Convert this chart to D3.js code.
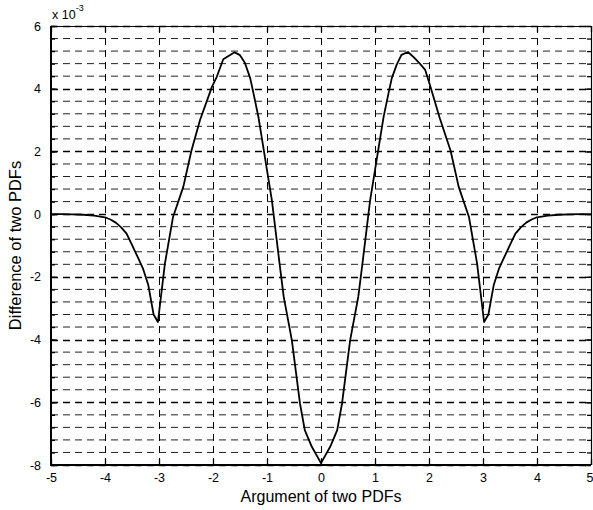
<!DOCTYPE html>
<html>
<head>
<meta charset="utf-8">
<script src="https://cdn.jsdelivr.net/npm/d3@7"></script>
<style>
  html, body { margin: 0; padding: 0; background: #fff; }
  svg { display: block; font-family: Arial, "Liberation Sans", Helvetica, sans-serif; }
</style>
</head>
<body>
<svg id="chart" width="593" height="510"></svg>
<script>
// ---- data (difference values in units of 1e-3) ----
const xValues = [
  -5, -4.8, -4.6, -4.4, -4.2, -4.0, -3.9, -3.8, -3.7, -3.6, -3.5, -3.4, -3.3, -3.2, -3.1, -3.02,
  -2.89, -2.74, -2.55, -2.4, -2.24, -2.02, -1.93, -1.81, -1.6, -1.5, -1.41, -1.31, -1.25, -1.16,
  -1.07, -0.98, -0.91, -0.82, -0.76, -0.69, -0.54, -0.39, -0.3, -0.17, 0,
  0.17, 0.3, 0.39, 0.54, 0.69, 0.76, 0.82, 0.91, 0.98, 1.07, 1.16, 1.25, 1.31, 1.4, 1.49,
  1.61, 1.72, 1.83, 1.93, 2.02, 2.2, 2.4, 2.55, 2.74, 2.89, 3.02, 3.1, 3.2, 3.3, 3.4, 3.5,
  3.6, 3.7, 3.8, 3.9, 4.0, 4.2, 4.4, 4.6, 4.8, 5
];
const diffValues = [
  0, 0, -0.01, -0.02, -0.05, -0.1, -0.17, -0.27, -0.42, -0.62, -0.98, -1.35, -1.72, -2.25, -3.2, -3.44,
  -1.57, -0.09, 0.87, 2.02, 3.0, 4.06, 4.38, 4.94, 5.16, 5.07, 4.83, 4.33, 3.85, 3.11,
  2.15, 1.19, 0.45, -0.83, -1.68, -2.64, -4.02, -6.03, -6.89, -7.42, -7.94,
  -7.42, -6.89, -6.03, -4.02, -2.64, -1.68, -0.83, 0.45, 1.19, 2.15, 3.11, 3.85, 4.33, 4.76, 5.08,
  5.17, 5.0, 4.8, 4.6, 4.1, 3.06, 2.02, 0.87, -0.09, -1.57, -3.44, -3.2, -2.25, -1.72, -1.35, -0.98,
  -0.62, -0.42, -0.27, -0.17, -0.1, -0.05, -0.02, -0.01, 0, 0
];
const xTicks = [-5, -4, -3, -2, -1, 0, 1, 2, 3, 4, 5];
const yTicks = [-8, -6, -4, -2, 0, 2, 4, 6];
const yMinorStep = 0.4;
const xLabel = "Argument of two PDFs";
const yLabel = "Difference of two PDFs";
const exponentBase = "x 10";
const exponentPower = "-3";

// ---- layout ----
const L = 51, R = 591, T = 26, B = 465;
const svg = d3.select("#chart");
const x = d3.scaleLinear().domain([-5, 5]).range([L, R]);
const y = d3.scaleLinear().domain([-8, 6]).range([B, T]);
const yMinor = d3.range(-8, 6 + 1e-9, yMinorStep).map(v => +v.toFixed(2));
const plainFmt = d => String(d);   // ASCII hyphen minus, as in the reference

// grid: horizontal minor
const grid = svg.append("g");
grid.selectAll("line.hminor")
  .data(yMinor.filter(v => !yTicks.includes(v)))
  .join("line")
  .attr("x1", L).attr("x2", R)
  .attr("y1", d => y(d)).attr("y2", d => y(d))
  .attr("stroke", "#222").attr("stroke-width", 1)
  .attr("stroke-dasharray", "7,5");
// grid: horizontal major
grid.selectAll("line.hmajor")
  .data(yTicks)
  .join("line")
  .attr("x1", L).attr("x2", R)
  .attr("y1", d => Math.round(y(d)) + 0.5).attr("y2", d => Math.round(y(d)) + 0.5)
  .attr("stroke", "#000").attr("stroke-width", 1.7)
  .attr("stroke-dasharray", "7,5");
// grid: vertical
grid.selectAll("line.v")
  .data(xTicks)
  .join("line")
  .attr("x1", d => Math.round(x(d)) + 0.5).attr("x2", d => Math.round(x(d)) + 0.5)
  .attr("y1", T).attr("y2", B)
  .attr("stroke", "#000").attr("stroke-width", 1)
  .attr("stroke-dasharray", "7,5");

// ticks via axes (inward)
const axB = d3.axisBottom(x).tickValues(xTicks).tickSize(-6).tickPadding(8).tickFormat(plainFmt);
const axT = d3.axisTop(x).tickValues(xTicks).tickSize(-6).tickFormat("");
const axL = d3.axisLeft(y).tickValues(yTicks).tickSize(-6).tickPadding(10).tickFormat(plainFmt);
const axR = d3.axisRight(y).tickValues(yTicks).tickSize(-6).tickFormat("");
const axLm = d3.axisLeft(y).tickValues(yMinor).tickSize(-4).tickFormat("");
const axRm = d3.axisRight(y).tickValues(yMinor).tickSize(-4).tickFormat("");

function styleAxis(g) {
  g.select(".domain").remove();
  g.selectAll(".tick line").attr("stroke", "#000").attr("stroke-width", 1.3);
  g.selectAll("text").attr("fill", "#000").attr("font-size", 12.5)
    .attr("font-family", "Arial, 'Liberation Sans', sans-serif");
}
const gB = svg.append("g").attr("transform", `translate(0,${B})`).call(axB).call(styleAxis);
// keep the last label ("5") inside the picture
gB.selectAll(".tick text").filter(d => d === xTicks[xTicks.length - 1])
  .attr("text-anchor", "end").attr("dx", 2);
svg.append("g").attr("transform", `translate(0,${T})`).call(axT).call(styleAxis);
svg.append("g").attr("transform", `translate(${L},0)`).call(axLm).call(styleAxis);
svg.append("g").attr("transform", `translate(${R},0)`).call(axRm).call(styleAxis);
svg.append("g").attr("transform", `translate(${L},0)`).call(axL).call(styleAxis);
svg.append("g").attr("transform", `translate(${R},0)`).call(axR).call(styleAxis);

// curve
const data = xValues.map((v, i) => [v, diffValues[i]]);
svg.append("path")
  .datum(data)
  .attr("fill", "none")
  .attr("stroke", "#000")
  .attr("stroke-width", 1.8)
  .attr("stroke-linejoin", "round")
  .attr("d", d3.line().x(d => x(d[0])).y(d => y(d[1])));

// box
svg.append("line").attr("x1", L).attr("x2", L).attr("y1", T).attr("y2", B + 1)
  .attr("stroke", "#000").attr("stroke-width", 2);
svg.append("line").attr("x1", L - 1).attr("x2", R).attr("y1", B).attr("y2", B)
  .attr("stroke", "#000").attr("stroke-width", 2);
svg.append("line").attr("x1", L).attr("x2", R).attr("y1", T + 0.5).attr("y2", T + 0.5)
  .attr("stroke", "#000").attr("stroke-width", 1);
svg.append("line").attr("x1", R + 0.5).attr("x2", R + 0.5).attr("y1", T).attr("y2", B)
  .attr("stroke", "#000").attr("stroke-width", 1.2);

// exponent
const ex = svg.append("text").attr("x", 52).attr("y", 19)
  .attr("font-size", 12.5).attr("fill", "#000");
ex.append("tspan").text(exponentBase);
ex.append("tspan").attr("dy", -8).attr("font-size", 9).text(exponentPower);

// axis labels
svg.append("text")
  .attr("x", (L + R) / 2).attr("y", 502)
  .attr("text-anchor", "middle").attr("font-size", 16).attr("fill", "#000")
  .text(xLabel);
svg.append("text")
  .attr("transform", `translate(21,${(T + B) / 2}) rotate(-90)`)
  .attr("text-anchor", "middle").attr("font-size", 16.5).attr("fill", "#000")
  .text(yLabel);
</script>
</body>
</html>
